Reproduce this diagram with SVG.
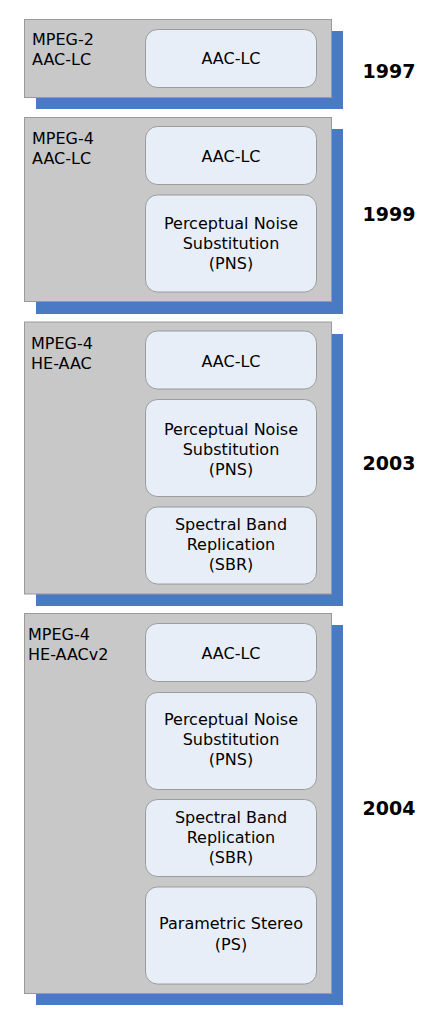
<svg xmlns="http://www.w3.org/2000/svg" width="433" height="1029" viewBox="0 0 433 1029">
<style>
.sh{fill:#4a7ac4}
.outer{fill:#c8c8c8;stroke:#9a9a9a;stroke-width:1}
.inner{fill:#e8eef8;stroke:#8c8c8c;stroke-width:0.8}
text{font-family:"DejaVu Sans",Verdana,sans-serif;font-size:16px;fill:#000}
.c{text-anchor:middle}
.yr{font-weight:bold;font-size:19px;text-anchor:middle}
</style>
<rect width="433" height="1029" fill="#fff"/>
<g id="connectors"/>
<g id="g1997">
<rect class="sh" x="36" y="31" width="307" height="78"/>
<rect class="outer" x="24.5" y="19.5" width="307" height="78"/>
<text x="32" y="45">MPEG-2</text><text x="32" y="65">AAC-LC</text>
<text class="yr" x="389" y="78">1997</text>
</g>
<g id="g1997-aac"><rect class="inner" x="145.5" y="29.5" width="171" height="58" rx="12"/><text class="c" x="231" y="64">AAC-LC</text></g>
<g id="g1999">
<rect class="sh" x="36" y="129" width="307" height="185"/>
<rect class="outer" x="24.5" y="117.5" width="307" height="184"/>
<text x="32" y="144">MPEG-4</text><text x="32" y="164">AAC-LC</text>
<text class="yr" x="389" y="221">1999</text>
</g>
<g id="g1999-aac"><rect class="inner" x="145.5" y="126.5" width="171" height="58" rx="12"/><text class="c" x="231" y="161.5">AAC-LC</text></g>
<g id="g1999-pns"><rect class="inner" x="145.5" y="195" width="171" height="97" rx="12"/><text class="c" x="231" y="228.5">Perceptual Noise</text><text class="c" x="231" y="248.5">Substitution</text><text class="c" x="231" y="268.5">(PNS)</text></g>
<g id="g2003">
<rect class="sh" x="36" y="334" width="307" height="272"/>
<rect class="outer" x="24.5" y="322" width="307" height="272"/>
<text x="31" y="349">MPEG-4</text><text x="31" y="369">HE-AAC</text>
<text class="yr" x="389" y="470">2003</text>
</g>
<g id="g2003-aac"><rect class="inner" x="145.5" y="331" width="171" height="58" rx="12"/><text class="c" x="231" y="366.5">AAC-LC</text></g>
<g id="g2003-pns"><rect class="inner" x="145.5" y="399.5" width="171" height="97" rx="12"/><text class="c" x="231" y="434.5">Perceptual Noise</text><text class="c" x="231" y="454.5">Substitution</text><text class="c" x="231" y="474.5">(PNS)</text></g>
<g id="g2003-sbr"><rect class="inner" x="145.5" y="507" width="171" height="77" rx="12"/><text class="c" x="231" y="530">Spectral Band</text><text class="c" x="231" y="550">Replication</text><text class="c" x="231" y="570">(SBR)</text></g>
<g id="g2004">
<rect class="sh" x="36" y="625" width="307" height="380"/>
<rect class="outer" x="24.5" y="613.5" width="307" height="380"/>
<text x="28" y="640">MPEG-4</text><text x="28" y="660">HE-AACv2</text>
<text class="yr" x="389" y="815">2004</text>
</g>
<g id="g2004-aac"><rect class="inner" x="145.5" y="623.5" width="171" height="58" rx="12"/><text class="c" x="231" y="658.5">AAC-LC</text></g>
<g id="g2004-pns"><rect class="inner" x="145.5" y="692.5" width="171" height="97" rx="12"/><text class="c" x="231" y="724.5">Perceptual Noise</text><text class="c" x="231" y="744.5">Substitution</text><text class="c" x="231" y="764.5">(PNS)</text></g>
<g id="g2004-sbr"><rect class="inner" x="145.5" y="799.5" width="171" height="77" rx="12"/><text class="c" x="231" y="822.5">Spectral Band</text><text class="c" x="231" y="842.5">Replication</text><text class="c" x="231" y="862.5">(SBR)</text></g>
<g id="g2004-ps"><rect class="inner" x="145.5" y="887" width="171" height="97" rx="12"/><text class="c" x="231" y="929">Parametric Stereo</text><text class="c" x="231" y="949.5">(PS)</text></g>
</svg>
